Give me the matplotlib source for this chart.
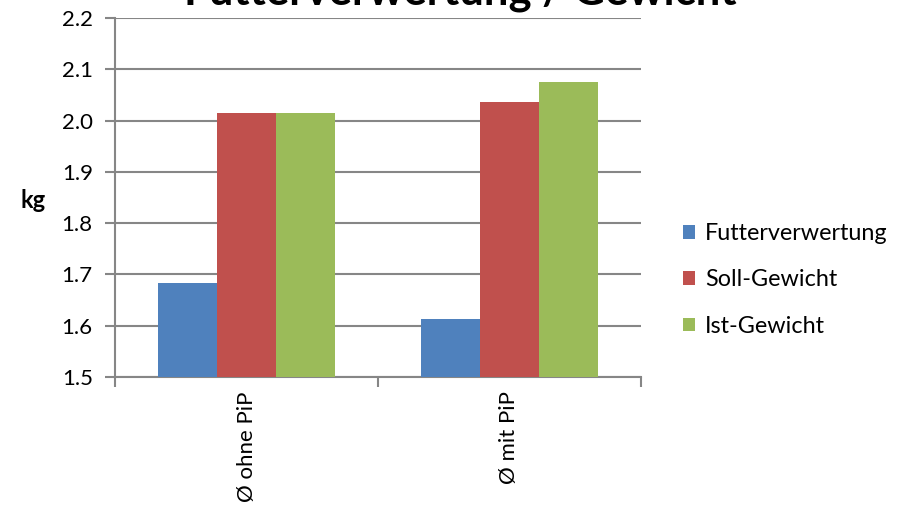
import matplotlib
matplotlib.use("Agg")
import matplotlib.pyplot as plt
import numpy as np

categories = ["Ø ohne PiP", "Ø mit PiP"]
series_names = ["Futterverwertung", "Soll-Gewicht", "Ist-Gewicht"]
futter = [1.684, 1.614]
soll = [2.014, 2.037]
ist = [2.014, 2.076]
colors = ["#4F81BD", "#C0504D", "#9BBB59"]
yticks = [1.5, 1.6, 1.7, 1.8, 1.9, 2.0, 2.1, 2.2]

plt.rcParams['font.family'] = ['Lato', 'DejaVu Sans']

W, H = 902, 513
fig = plt.figure(figsize=(W/100, H/100), dpi=100)
ax = fig.add_axes([115/W, 1-377/H, (641-115)/W, (377-18)/H])

x = np.arange(len(categories))
bw = 0.224
grey = "#868686"
for i, (vals, name) in enumerate(zip([futter, soll, ist], series_names)):
    ax.bar(x + (i-1)*bw, np.array(vals) - 1.5, bw, bottom=1.5, color=colors[i], label=name, zorder=3)

ax.set_xlim(-0.5, 1.5)
ax.set_ylim(1.5, 2.2)
ax.set_yticks(yticks)
ax.set_yticklabels([f"{v:.1f}" for v in yticks], fontsize=16)
ax.yaxis.grid(True, color=grey, linewidth=1.5, zorder=0)
ax.set_axisbelow(True)
for s in ["top", "right"]:
    ax.spines[s].set_visible(False)
for s in ["left", "bottom"]:
    ax.spines[s].set_color(grey)
    ax.spines[s].set_linewidth(1.5)
ax.tick_params(axis='y', length=7, width=1.5, color=grey, pad=9)
ax.set_xticks([-0.5, 0.5, 1.5])
ax.set_xticklabels([])
ax.tick_params(axis='x', length=7, width=1.5, color=grey)
for xi, c in zip(x, categories):
    ax.text(xi, -0.04, c, transform=ax.get_xaxis_transform(), rotation=90,
            ha='center', va='top', fontsize=16)

fig.text(33/W, 1-201/H, "kg", fontsize=17, fontweight='bold', ha='center', va='center')
fig.text(460/W, 1-4/H, "Futterverwertung / Gewicht", fontsize=31.5, fontweight='bold',
         ha='center', va='baseline')

handles, labels = ax.get_legend_handles_labels()
fig.legend(handles, labels, loc='center left', bbox_to_anchor=(683/W, 1-280/H),
           frameon=False, fontsize=16.8, borderpad=0, borderaxespad=0,
           handlelength=0.52, handleheight=0.52,
           labelspacing=1.08, handletextpad=0.42)

fig.savefig("out.png", dpi=100)
